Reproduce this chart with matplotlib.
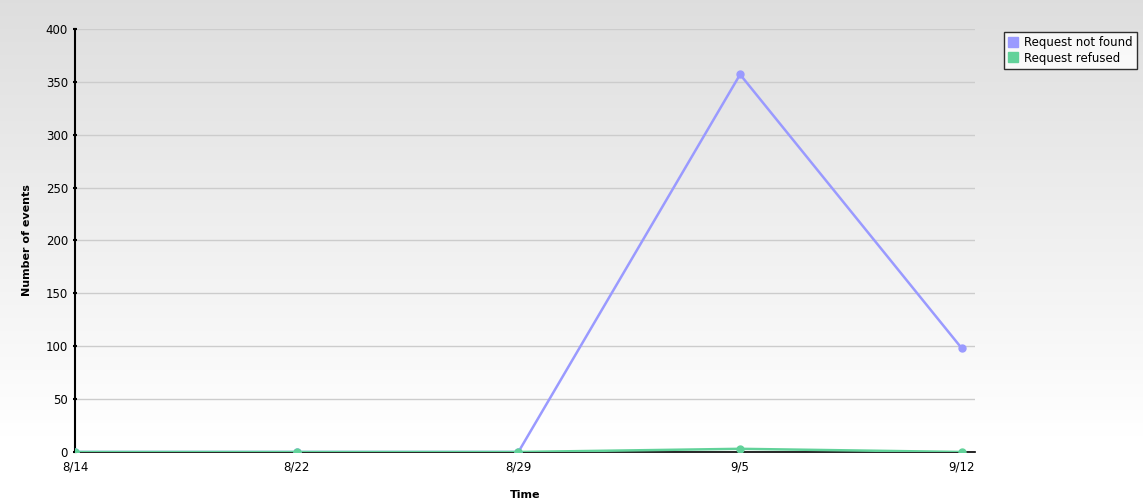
import matplotlib
matplotlib.use("Agg")
import matplotlib.pyplot as plt
import numpy as np

dates = ["8/14", "8/22", "8/29", "9/5", "9/12"]
not_found = [0, 0, 0, 357, 98]
refused = [0, 0, 0, 3, 0]
y_ticks = [0, 50, 100, 150, 200, 250, 300, 350, 400]

blue = "#9a9aff"
green = "#62d29a"

fig = plt.figure(figsize=(11.43, 5.04), dpi=100)

# gradient background (gray at top fading to white)
bg = fig.add_axes([0, 0, 1, 1], zorder=-10)
grad = np.linspace(0.87, 1.02, 256).reshape(-1, 1)
grad = np.clip(grad, 0, 1)
bg.imshow(np.dstack([grad, grad, grad]), aspect="auto", extent=[0, 1, 0, 1], origin="upper")
bg.axis("off")

ax = fig.add_axes([0.0656, 0.1032, 0.7875, 0.8393])
ax.patch.set_alpha(0)

x = np.arange(len(dates))
ax.plot(x, not_found, color=blue, lw=1.8, marker="o", ms=5, label="Request not found", zorder=3)
ax.plot(x, refused, color=green, lw=1.8, marker="o", ms=5, label="Request refused", zorder=4)

ax.set_xlim(0, 4.06)
ax.set_ylim(0, 400)
ax.set_yticks(y_ticks)
ax.set_xticks(x)
ax.set_xticklabels(dates)
ax.tick_params(axis="both", labelsize=8.5, length=3, direction="inout", width=1.5)
ax.tick_params(axis="x", length=0, pad=6)
ax.grid(axis="y", color="#cccccc", lw=1)
ax.set_axisbelow(True)
for s in ["top", "right"]:
    ax.spines[s].set_visible(False)
ax.spines["left"].set_linewidth(1.5)
ax.spines["bottom"].set_linewidth(1.2)

ax.set_ylabel("Number of events", fontsize=8, fontweight="bold", labelpad=10)
ax.set_xlabel("Time", fontsize=8, fontweight="bold", labelpad=12)

handles = [plt.Line2D([], [], ls="", marker="s", ms=7, color=c) for c in (blue, green)]
leg = fig.legend(handles, ["Request not found", "Request refused"], loc="upper left",
                 bbox_to_anchor=(0.873, 0.948), fontsize=8.5, frameon=True, fancybox=False,
                 handlelength=0.8, handletextpad=0.6, borderpad=0.35, labelspacing=0.2)
leg.get_frame().set_edgecolor("black")
leg.get_frame().set_linewidth(1)

fig.savefig("out.png", dpi=100)
